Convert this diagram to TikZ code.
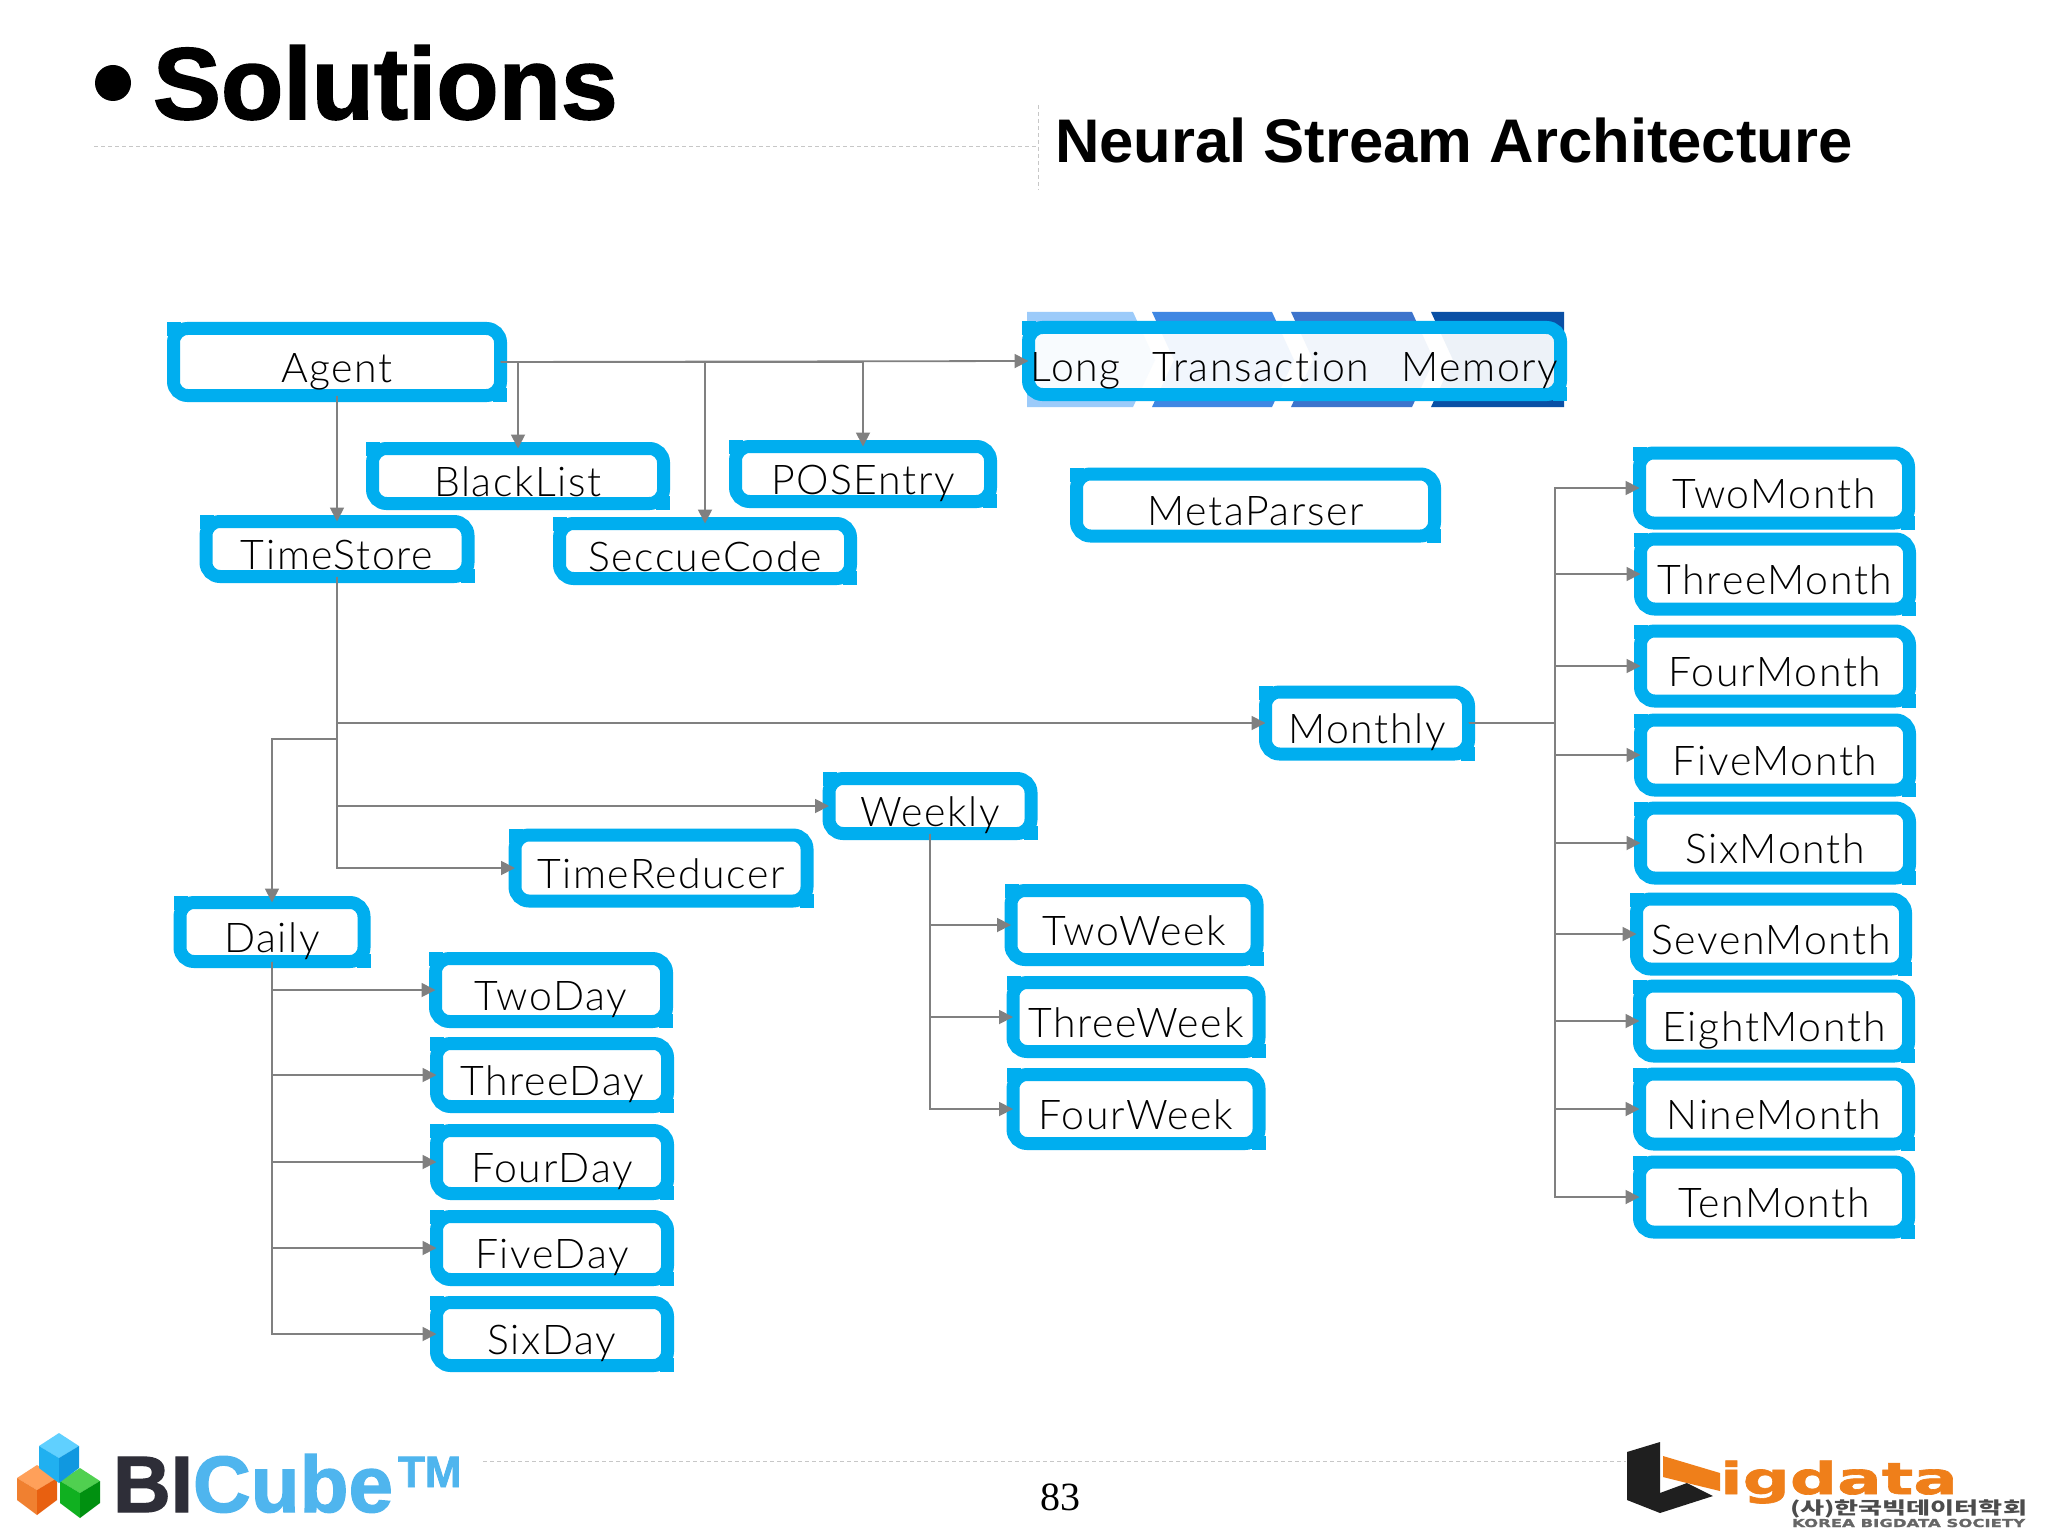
\documentclass[tikz,border=0pt]{standalone}
\usepackage{fontspec}
\usetikzlibrary{arrows.meta}
\setmainfont{Liberation Sans}
\newfontfamily\titlefont[BoldFeatures={FakeBold=1.6}]{Liberation Sans}
\newfontfamily\boxfont[LetterSpace=4,WordSpace=2.5,Ligatures=NoCommon]{Lato Light}
\newfontfamily\logofont[FakeStretch=1.5,BoldFeatures={FakeStretch=1.5,FakeBold=1.5}]{DejaVu Sans}
\newfontfamily\koreanfont[FakeStretch=1.5]{Noto Sans CJK KR}
\definecolor{boxblue}{HTML}{00AEEF}
\definecolor{linegray}{HTML}{808080}
\definecolor{cubeblue}{HTML}{4FB5EE}
\definecolor{logoorange}{HTML}{EF7F1A}
\definecolor{bandone}{HTML}{9CCBFA}
\definecolor{bandtwo}{HTML}{3F87E3}
\definecolor{bandthree}{HTML}{3D74CC}
\definecolor{bandfour}{HTML}{0A50A5}
\tikzset{
	blockbox/.style={draw=boxblue,fill=white,line width=6.5pt,rounded corners=7pt,inner sep=0pt,outer sep=0pt,
		text height=20pt,text depth=0pt,align=center,font=\boxfont\fontsize{20.5}{25}\selectfont,
		append after command={\pgfextra{\let\lastbox\tikzlastnode
			\fill[boxblue] ([xshift=-3.25pt,yshift=3.25pt]\lastbox.north west) rectangle ++(7pt,-7pt);
			\fill[boxblue] ([xshift=3.25pt,yshift=-3.25pt]\lastbox.south east) rectangle ++(-7pt,7pt);}}},
	size/.style 2 args={minimum width=#1*0.5pt,minimum height=#2*0.5pt},
	daybox/.style={blockbox,size={231}{63}},
	weekbox/.style={blockbox,size={246}{69}},
	monthbox/.style={blockbox,size={269}{70}},
	conn/.style={draw=linegray,line width=0.9pt,arrows={-{Triangle[length=7pt,width=7pt]}}},
	guide/.style={draw=black!22,line width=0.4pt,dash pattern=on 2pt off 1.5pt},
	plain/.style={inner sep=0pt,outer sep=0pt,anchor=base west}
}
\newcommand{\logocube}[5]{
	\definecolor{cubetop}{HTML}{#3}\definecolor{cubeleft}{HTML}{#4}\definecolor{cuberight}{HTML}{#5}
	\fill[cubetop] (#1,#2) -- (#1-20,#2-12) -- (#1,#2-25) -- (#1+20,#2-12) -- cycle;
	\fill[cubeleft] (#1,#2) -- (#1-20,#2-12) -- (#1-20,#2+10) -- (#1,#2+25) -- cycle;
	\fill[cuberight] (#1,#2) -- (#1+20,#2-12) -- (#1+20,#2+10) -- (#1,#2+25) -- cycle;
}
\begin{document}
\begin{tikzpicture}[x=0.5pt,y=-0.5pt]
	\useasboundingbox[fill=white] (0,0) rectangle (2048,1535);
	% Heading
	\fill[black] (113,83) circle (18);
	\node[plain,font=\titlefont\bfseries\fontsize{51}{60}\selectfont] (title) at (153,119) {Solutions};
	\node[plain,font=\bfseries\fontsize{30.8}{38}\selectfont] (subtitle) at (1055,163) {Neural Stream Architecture};
	\draw[guide] (94,146) -- (1038,146);
	\draw[guide] (1038,105) -- (1038,190);
	% Banner
	\fill[bandone] (1027,312) -- (1133,312) -- (1155,360) -- (1133,407) -- (1027,407) -- cycle;
	\fill[bandtwo] (1152,312) -- (1272,312) -- (1294,360) -- (1272,407) -- (1152,407) -- (1174,360) -- cycle;
	\fill[bandthree] (1291,312) -- (1412,312) -- (1434,360) -- (1412,407) -- (1291,407) -- (1313,360) -- cycle;
	\fill[bandfour] (1431,312) -- (1564,312) -- (1564,407) -- (1431,407) -- (1453,360) -- cycle;
	% Boxes
	\node[blockbox,size={327}{67}] (agent) at (337,362) {Agent};
	\node[blockbox,size={291}{55}] (blacklist) at (518,476) {BlackList};
	\node[blockbox,size={255}{55}] (posentry) at (863,474) {POSEntry};
	\node[blockbox,size={262}{55}] (timestore) at (337,549) {TimeStore};
	\node[blockbox,size={291}{55}] (seccuecode) at (705,551) {SeccueCode};
	\node[blockbox,size={532}{67},fill opacity=0.93,text opacity=1] (ltm) at (1294.5,361) {Long Transaction Memory};
	\node[blockbox,size={358}{62}] (metaparser) at (1255.5,505) {MetaParser};
	\node[blockbox,size={203}{62}] (monthly) at (1367,723) {Monthly};
	\node[blockbox,size={202}{55}] (weekly) at (930,806) {Weekly};
	\node[blockbox,size={292}{66}] (timereducer) at (661,868) {TimeReducer};
	\node[blockbox,size={184}{59}] (daily) at (272,932) {Daily};
	% Days
	\node[daybox] (twoday) at (551,990) {TwoDay};
	\node[daybox] (threeday) at (552,1075) {ThreeDay};
	\node[daybox] (fourday) at (552,1162) {FourDay};
	\node[daybox] (fiveday) at (552,1248) {FiveDay};
	\node[daybox] (sixday) at (552,1334) {SixDay};
	% Weeks
	\node[weekbox] (twoweek) at (1134,925) {TwoWeek};
	\node[weekbox] (threeweek) at (1136,1017) {ThreeWeek};
	\node[weekbox] (fourweek) at (1136,1109) {FourWeek};
	% Months
	\node[monthbox] (twomonth) at (1774,488) {TwoMonth};
	\node[monthbox] (threemonth) at (1775,574) {ThreeMonth};
	\node[monthbox] (fourmonth) at (1775,666) {FourMonth};
	\node[monthbox] (fivemonth) at (1775,755) {FiveMonth};
	\node[monthbox] (sixmonth) at (1775,843) {SixMonth};
	\node[monthbox] (sevenmonth) at (1771,934) {SevenMonth};
	\node[monthbox] (eightmonth) at (1774,1021) {EightMonth};
	\node[monthbox] (ninemonth) at (1774,1109) {NineMonth};
	\node[monthbox] (tenmonth) at (1774,1197) {TenMonth};
	% Connectors
	\coordinate (dailyturn) at (337,739);
	\coordinate (monthtrunk) at (1555,723);
	\draw[conn] (agent.east) -- (ltm.west);
	\draw[conn] (agent.east) -| (blacklist.north);
	\draw[conn] (agent.east) -| (seccuecode.north);
	\draw[conn] (agent.east) -| (posentry.north);
	\draw[conn] (agent.south) -- (timestore.north);
	\draw[conn] (timestore.south) |- (monthly.west);
	\draw[conn] (timestore.south) |- (weekly.west);
	\draw[conn] (timestore.south) |- (timereducer.west);
	\draw[conn] (timestore.south) -- (dailyturn) -| (daily.north);
	\draw[conn] (daily.south) |- (twoday.west);
	\draw[conn] (daily.south) |- (threeday.west);
	\draw[conn] (daily.south) |- (fourday.west);
	\draw[conn] (daily.south) |- (fiveday.west);
	\draw[conn] (daily.south) |- (sixday.west);
	\draw[conn] (weekly.south) |- (twoweek.west);
	\draw[conn] (weekly.south) |- (threeweek.west);
	\draw[conn] (weekly.south) |- (fourweek.west);
	\draw[conn] (monthly.east) -- (monthtrunk) |- (twomonth.west);
	\draw[conn] (monthly.east) -- (monthtrunk) |- (threemonth.west);
	\draw[conn] (monthly.east) -- (monthtrunk) |- (fourmonth.west);
	\draw[conn] (monthly.east) -- (monthtrunk) |- (fivemonth.west);
	\draw[conn] (monthly.east) -- (monthtrunk) |- (sixmonth.west);
	\draw[conn] (monthly.east) -- (monthtrunk) |- (sevenmonth.west);
	\draw[conn] (monthly.east) -- (monthtrunk) |- (eightmonth.west);
	\draw[conn] (monthly.east) -- (monthtrunk) |- (ninemonth.west);
	\draw[conn] (monthly.east) -- (monthtrunk) |- (tenmonth.west);
	% Footer
	\draw[guide] (483,1461) -- (1626,1461);
	\logocube{37}{1490}{FFA05A}{F08030}{E86010}
	\logocube{80}{1493}{50D050}{10B020}{009010}
	\logocube{59}{1458}{60D0FF}{20B0F0}{1098E0}
	\node[plain,font=\titlefont\bfseries\fontsize{40}{48}\selectfont] (bicube) at (113,1512) {\textcolor[HTML]{2E2E38}{BI}\textcolor{cubeblue}{Cube}};
	\node[plain,font=\titlefont\bfseries\fontsize{22}{26}\selectfont,text=cubeblue] (trademark) at (398,1487) {TM};
	\node[font=\fontspec{Liberation Serif}\fontsize{20}{24}\selectfont] (pagenum) at (1060,1497) {83};
	\fill[black!88] (1627,1452) -- (1660,1442) -- (1660,1493) -- (1687,1483) -- (1713,1496) -- (1660,1513) -- (1627,1500) -- cycle;
	\fill[logoorange] (1663,1456) -- (1720,1473) -- (1720,1491) -- (1687,1483) -- (1663,1477) -- cycle;
	\node[plain,font=\logofont\bfseries\fontsize{22}{26}\selectfont,text=logoorange] (bigdata) at (1720,1494) {igdata};
	\node[plain,font=\koreanfont\bfseries\fontsize{8.7}{10}\selectfont,text=black!70] (koreanname) at (1790,1514) {(사)한국빅데이터학회};
	\node[plain,font=\logofont\bfseries\fontsize{5.5}{7}\selectfont,text=black!60] (societyname) at (1792,1527) {KOREA BIGDATA SOCIETY};
\end{tikzpicture}
\end{document}
